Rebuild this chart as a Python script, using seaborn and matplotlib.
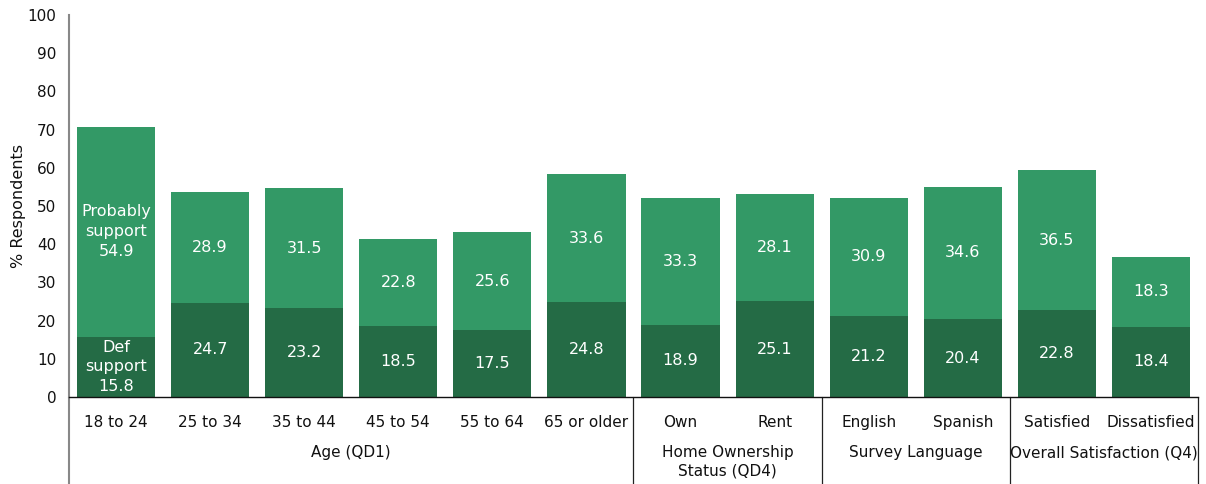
import matplotlib
matplotlib.use("Agg")
import matplotlib.pyplot as plt
import matplotlib.transforms as mtransforms
import seaborn as sns
import pandas as pd

categories = ["18 to 24", "25 to 34", "35 to 44", "45 to 54", "55 to 64", "65 or older",
              "Own", "Rent", "English", "Spanish", "Satisfied", "Dissatisfied"]
def_support = [15.8, 24.7, 23.2, 18.5, 17.5, 24.8, 18.9, 25.1, 21.2, 20.4, 22.8, 18.4]
prob_support = [54.9, 28.9, 31.5, 22.8, 25.6, 33.6, 33.3, 28.1, 30.9, 34.6, 36.5, 18.3]
groups = ["Age (QD1)", "Home Ownership\nStatus (QD4)", "Survey Language", "Overall Satisfaction (Q4)"]
group_sizes = [6, 2, 2, 2]

LIGHT = "#339966"
DARK = "#246b45"

sns.set_theme(style="white")
plt.rcParams["font.family"] = ["DejaVu Sans"]

df = pd.DataFrame({"cat": categories, "def": def_support, "prob": prob_support})
df["total"] = df["def"] + df["prob"]

fig = plt.figure(figsize=(12.06, 4.84), dpi=100)
ax = fig.add_axes([69 / 1206, 1 - 397 / 484, (1198 - 69) / 1206, (397 - 15) / 484])

sns.barplot(data=df, x="cat", y="total", color=LIGHT, width=0.83, saturation=1,
            linewidth=0, ax=ax)
sns.barplot(data=df, x="cat", y="def", color=DARK, width=0.83, saturation=1,
            linewidth=0, ax=ax)

ax.set_xlim(-0.5, len(categories) - 0.5)
ax.set_ylim(0, 100)
ax.set_yticks(range(0, 101, 10))
ax.tick_params(axis="y", length=0, pad=9, labelsize=11, colors="#111111")
ax.tick_params(axis="x", length=0, pad=13, labelsize=11, colors="#111111")
ax.set_xlabel("")
ax.set_ylabel("% Respondents", fontsize=11.5, color="#111111")
ax.yaxis.set_label_coords(-51 / 1129, 0.5)
ax.yaxis.label.set_verticalalignment("center")

for s in ["top", "right"]:
    ax.spines[s].set_visible(False)
ax.spines["left"].set_color("#888888")
ax.spines["left"].set_linewidth(1.5)
ax.spines["bottom"].set_color("#111111")
ax.spines["bottom"].set_linewidth(1.0)

# segment value labels
for i, (d, p) in enumerate(zip(def_support, prob_support)):
    if i == 0:
        dtxt = f"Def\nsupport\n{d}"
        ptxt = f"Probably\nsupport\n{p}"
    else:
        dtxt = f"{d}"
        ptxt = f"{p}"
    ax.text(i, d / 2, dtxt, ha="center", va="center", color="white", fontsize=11.5,
            linespacing=1.4)
    ax.text(i, d + p / 2, ptxt, ha="center", va="center", color="white", fontsize=11.5,
            linespacing=1.4)

# group separators and group labels below the axis
trans = mtransforms.blended_transform_factory(ax.transData, ax.transAxes)
bottom = -(484 - 397) / 382
ax.plot([-0.5, -0.5], [0, bottom], transform=trans, color="#888888", lw=1.5, clip_on=False)
start = 0
for g, n in zip(groups, group_sizes):
    end = start + n
    ax.plot([end - 0.5, end - 0.5], [0, bottom], transform=trans, color="#222222",
            lw=0.9, clip_on=False)
    ax.text((start + end - 1) / 2, -(445 - 397) / 382, g, transform=trans,
            ha="center", va="top", fontsize=11, color="#111111", linespacing=1.25)
    start = end

fig.savefig("out.png", dpi=100)
